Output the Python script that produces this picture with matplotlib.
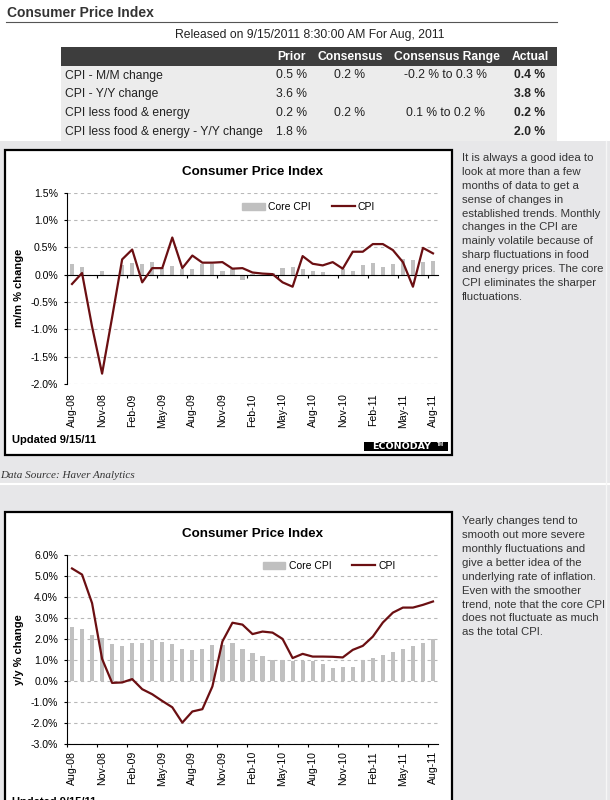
import numpy as np
import pandas as pd
import matplotlib
matplotlib.use('Agg')
import matplotlib.pyplot as plt
from matplotlib.patches import Rectangle, Patch
from matplotlib.lines import Line2D
from matplotlib.ticker import FuncFormatter

plt.rcParams['font.family'] = ['Liberation Sans', 'DejaVu Sans']

# data
months = list(pd.date_range('2008-08-01', periods=37, freq='MS').strftime('%b-%y'))

cpi_mm = [-0.17, 0.03, -0.95, -1.81, -0.78,
          0.28, 0.46, -0.14, 0.12, 0.12, 0.68, 0.12, 0.35, 0.22, 0.22, 0.23, 0.11,
          0.12, 0.04, 0.02, 0.01, -0.14, -0.22, 0.34, 0.20, 0.17, 0.23, 0.11, 0.42,
          0.42, 0.56, 0.56, 0.45, 0.23, -0.22, 0.49, 0.39]
core_mm = [0.19, 0.14, 0.0, 0.06, -0.03,
           0.17, 0.21, 0.19, 0.23, 0.13, 0.15, 0.11, 0.10, 0.20, 0.20, 0.06, 0.11,
           -0.10, 0.02, 0.0, 0.03, 0.12, 0.14, 0.10, 0.06, 0.04, 0.0, 0.11, 0.06,
           0.17, 0.21, 0.14, 0.19, 0.29, 0.27, 0.23, 0.25]

cpi_yy = [5.36, 5.07, 3.71, 1.06, -0.08,
          -0.06, 0.10, -0.38, -0.62, -0.94, -1.24, -1.97, -1.44, -1.33, -0.25, 1.89, 2.78,
          2.69, 2.24, 2.36, 2.31, 2.01, 1.10, 1.30, 1.17, 1.17, 1.16, 1.13, 1.49,
          1.68, 2.12, 2.79, 3.26, 3.50, 3.50, 3.63, 3.79]
core_yy = [2.57, 2.46, 2.22, 2.04, 1.75,
           1.67, 1.80, 1.80, 1.95, 1.84, 1.75, 1.55, 1.46, 1.52, 1.70, 1.73, 1.80,
           1.51, 1.33, 1.18, 0.99, 1.00, 0.98, 0.98, 0.97, 0.80, 0.62, 0.68, 0.68,
           1.00, 1.11, 1.24, 1.38, 1.53, 1.67, 1.81, 2.03]

table_cols = ['Prior', 'Consensus', 'Consensus Range', 'Actual']
table_rows = ['CPI - M/M change', 'CPI - Y/Y change', 'CPI less food & energy',
              'CPI less food & energy - Y/Y change']
prior = ['0.5 %', '3.6 %', '0.2 %', '1.8 %']
consensus = ['0.2 %', '', '0.2 %', '']
cons_range = ['-0.2 % to 0.3 %', '', '0.1 % to 0.2 %', '']
actual = ['0.4 %', '3.8 %', '0.2 %', '2.0 %']

note_mm = ['It is always a good idea to', 'look at more than a few',
           'months of data to get a', 'sense of changes in',
           'established trends. Monthly', 'changes in the CPI are',
           'mainly volatile because of', 'sharp fluctuations in food',
           'and energy prices. The core', 'CPI eliminates the sharper',
           'fluctuations.']
note_yy = ['Yearly changes tend to', 'smooth out more severe',
           'monthly fluctuations and', 'give a better idea of the',
           'underlying rate of inflation.', 'Even with the smoother',
           'trend, note that the core CPI', 'does not fluctuate as much',
           'as the total CPI.']

BAR = '#c0c0c0'
LINE = '#6b0f12'
W, H = 610, 800

fig = plt.figure(figsize=(6.1, 8.0), dpi=100)

# page background in pixel coords
bg = fig.add_axes([0, 0, 1, 1])
bg.set_xlim(0, W)
bg.set_ylim(H, 0)
bg.axis('off')

bg.add_patch(Rectangle((0, 141), W, H - 141, color='#e7e7e9', lw=0))
bg.text(7, 13, 'Consumer Price Index', fontsize=10, weight='bold', color='#333333', va='center')
bg.plot([6, 557], [22, 22], color='#555555', lw=0.8)
bg.text(310, 35, 'Released on 9/15/2011 8:30:00 AM For Aug, 2011', fontsize=8.7,
        color='#222222', ha='center', va='center')

# table
bg.add_patch(Rectangle((61, 47), 496, 19, color='#3d3d3d', lw=0))
bg.add_patch(Rectangle((61, 66), 496, 75, color='#ececec', lw=0))
col_x = [291, 350, 447, 530]
for cx, name in zip(col_x, table_cols):
    bg.text(cx, 57, name, fontsize=8.7, weight='bold', color='white', ha='center', va='center')
for i, lab in enumerate(table_rows):
    ry = 75.5 + 18.8 * i
    bg.text(65, ry, lab, fontsize=8.7, color='#222222', va='center')
    bg.text(276, ry, prior[i], fontsize=8.7, color='#222222', va='center')
    bg.text(350, ry, consensus[i], fontsize=8.7, color='#222222', ha='center', va='center')
    bg.text(445, ry, cons_range[i], fontsize=8.7, color='#222222', ha='center', va='center')
    bg.text(530, ry, actual[i], fontsize=8.7, weight='bold', color='#222222', ha='center', va='center')

# chart panels
bg.add_patch(Rectangle((5, 150), 447, 305, facecolor='white', edgecolor='black', lw=1.6))
bg.add_patch(Rectangle((5, 512), 447, 300, facecolor='white', edgecolor='black', lw=1.6))
bg.plot([0, W], [484, 484], color='white', lw=1.5)
bg.plot([605.5, 605.5], [141, H], color='#f6f6f6', lw=1)

bg.text(0, 475, 'Data Source: Haver Analytics', fontsize=8, style='italic',
        family='Liberation Serif', color='#333333', va='center')

for i, line in enumerate(note_mm):
    bg.text(462, 158 + 13.9 * i, line, fontsize=8.2, color='#333333', va='center')
for i, line in enumerate(note_yy):
    bg.text(462, 521 + 13.9 * i, line, fontsize=8.2, color='#333333', va='center')

bg.text(12, 440, 'Updated 9/15/11', fontsize=8, weight='bold', va='center')
bg.text(12, 802, 'Updated 9/15/11', fontsize=8, weight='bold', va='center')
bg.add_patch(Rectangle((364, 441.5), 84, 9.5, color='black', lw=0))
bg.text(402, 446.5, 'ECONODAY', fontsize=6.8, weight='bold', family='DejaVu Sans',
        color='white', ha='center', va='center')
bg.text(441, 444.5, 'TM', fontsize=3.5, weight='bold', color='white', ha='center', va='center')

x = np.arange(len(months))
pct = FuncFormatter(lambda v, p: f'{v:.1f}%')


def make_axes(top, bottom, zero_spine):
    ax = fig.add_axes([67 / W, 1 - bottom / H, (438 - 67) / W, (bottom - top) / H])
    ax.set_facecolor('none')
    ax.set_xlim(-0.5, len(months) - 0.5)
    ax.spines['top'].set_visible(False)
    ax.spines['right'].set_visible(False)
    if zero_spine:
        ax.spines['bottom'].set_position(('data', 0))
    ax.yaxis.grid(True, ls=(0, (3, 3)), color='#b8b8b8', lw=0.8)
    ax.set_axisbelow(True)
    ax.yaxis.set_major_formatter(pct)
    ax.tick_params(axis='y', length=2.5, width=0.8, pad=4, labelsize=7.6, colors='black')
    ax.set_xticks(x[::3])
    ax.set_xticklabels(months[::3], fontsize=7.6)
    ax.set_xticks(np.arange(-0.5, len(months) - 1, 3), minor=True)
    ax.tick_params(axis='x', which='minor', length=2.5, width=0.8)
    ax.tick_params(axis='x', which='major', length=0, labelrotation=90)
    return ax


# top chart: m/m
ax1 = make_axes(192.7, 384, True)
ax1.set_ylim(-2.0, 1.5)
ax1.set_yticks(np.arange(-2.0, 1.51, 0.5))
ax1.bar(x, core_mm, width=0.42, color=BAR, zorder=2)
ax1.plot(x, cpi_mm, color=LINE, lw=1.6, zorder=3)
ax1.tick_params(axis='x', which='major', pad=85.5)
ax1.set_ylabel('m/m % change', fontsize=8, weight='bold', labelpad=5)
ax1.set_title('Consumer Price Index', fontsize=9.6, weight='bold', pad=13)

# bottom chart: y/y
ax2 = make_axes(555, 744.3, False)
ax2.set_ylim(-3.0, 6.0)
ax2.set_yticks(np.arange(-3, 6.1, 1))
ax2.bar(x, core_yy, width=0.42, color=BAR, zorder=2)
ax2.plot(x, cpi_yy, color=LINE, lw=1.6, zorder=3)
ax2.tick_params(axis='x', which='major', pad=5)
ax2.set_ylabel('y/y % change', fontsize=8, weight='bold', labelpad=5)
ax2.set_title('Consumer Price Index', fontsize=9.6, weight='bold', pad=13)

handles = [Patch(color=BAR), Line2D([], [], color=LINE, lw=1.6)]
for ax, pos in [(ax1, (0.651, 0.925)), (ax2, (0.706, 0.942))]:
    ax.legend(handles, ['Core CPI', 'CPI'], ncol=2, frameon=False, loc='center',
              bbox_to_anchor=pos, fontsize=7.5, handlelength=2.2, handletextpad=0.3,
              columnspacing=2.0, handleheight=0.7)

fig.savefig('out.png', dpi=100)
